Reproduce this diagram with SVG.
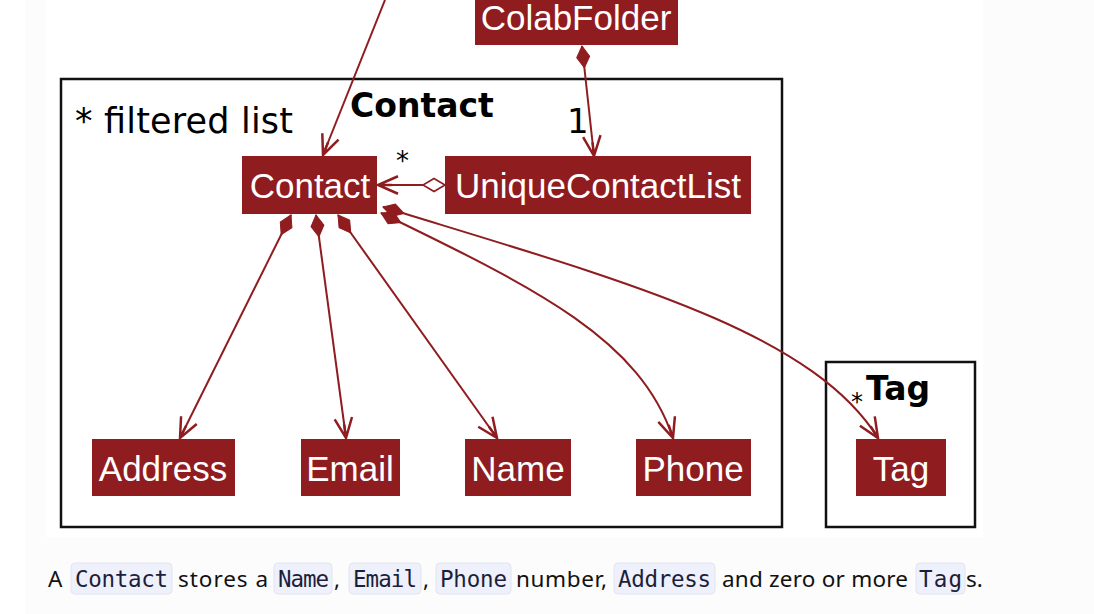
<svg xmlns="http://www.w3.org/2000/svg" width="1094" height="614" viewBox="0 0 1094 614">
<style>
.node rect{fill:#8f1c1f}
.node text{fill:#ffffff;font-family:"Liberation Sans",Arial,sans-serif;font-size:35px;text-anchor:middle}
.frame{fill:#ffffff;stroke:#111111;stroke-width:2.5}
.ptitle{font-family:"DejaVu Sans",sans-serif;font-weight:bold;font-size:33px;fill:#000}
.lbl{font-family:"DejaVu Sans",sans-serif;fill:#000}
.conn path{fill:none;stroke:#8f1c1f;stroke-width:2}
.cap{font-family:"Noto Sans",sans-serif;font-size:22.5px;fill:#111}
.code{font-family:"DejaVu Sans Mono","Liberation Mono",monospace;font-size:22.5px;fill:#1c1f3a}
.cbox{fill:#eef0fb;stroke:#e2e4f0;stroke-width:1}
</style>
<defs>
<marker id="arr" markerUnits="userSpaceOnUse" markerWidth="30" markerHeight="30" viewBox="-20 -10 24 20" refX="0" refY="0" orient="auto">
<path d="M-16,-7 L0,0 L-16,7 M-11,0 L0,0" fill="none" stroke="#8f1c1f" stroke-width="2"/>
</marker>
<marker id="dia" markerUnits="userSpaceOnUse" markerWidth="30" markerHeight="20" viewBox="-2 -10 26 20" refX="0" refY="0" orient="auto">
<path d="M0,0 L11,-6.5 L22,0 L11,6.5 Z" fill="#8f1c1f" stroke="#8f1c1f" stroke-width="1"/>
</marker>
<marker id="odia" markerUnits="userSpaceOnUse" markerWidth="30" markerHeight="20" viewBox="-2 -10 26 20" refX="0" refY="0" orient="auto">
<path d="M0,0 L11,-6.5 L22,0 L11,6.5 Z" fill="#ffffff" stroke="#8f1c1f" stroke-width="1.6"/>
</marker>
</defs>
<rect x="0" y="0" width="1094" height="614" fill="#ffffff"/>
<rect x="25" y="0" width="1069" height="614" fill="#fcfcfc"/>
<rect x="46" y="0" width="937" height="537" fill="#ffffff"/>

<g id="pkg-contact">
<rect class="frame" x="61" y="79" width="721" height="448"/>
<text class="ptitle" x="350" y="117">Contact</text>
<text class="lbl" x="75" y="133" font-size="35" textLength="218">* filtered list</text>
</g>
<g id="pkg-tag">
<rect class="frame" x="826" y="362" width="149" height="165"/>
<text class="ptitle" x="866" y="400" font-size="34">Tag</text>
<text class="lbl" x="851" y="410" font-size="24">*</text>
</g>

<g id="ColabFolder" class="node"><rect x="475" y="0" width="203" height="45"/><text x="576" y="30">ColabFolder</text></g>
<g id="Contact" class="node"><rect x="242" y="156" width="135" height="58"/><text x="310" y="198">Contact</text></g>
<g id="UniqueContactList" class="node"><rect x="445" y="156" width="306" height="58"/><text x="598" y="198">UniqueContactList</text></g>
<g id="Address" class="node"><rect x="92" y="439" width="143" height="57"/><text x="163" y="481">Address</text></g>
<g id="Email" class="node"><rect x="301" y="439" width="99" height="57"/><text x="350" y="481">Email</text></g>
<g id="Name" class="node"><rect x="465" y="439" width="106" height="57"/><text x="518" y="481">Name</text></g>
<g id="Phone" class="node"><rect x="636" y="439" width="115" height="57"/><text x="693" y="481">Phone</text></g>
<g id="Tag" class="node"><rect x="856" y="439" width="90" height="57"/><text x="901" y="481">Tag</text></g>

<g id="connectors" class="conn">
<path d="M385,0 L323,155" marker-end="url(#arr)"/>
<path d="M582,46 L594,156" marker-start="url(#dia)" marker-end="url(#arr)"/>
<path d="M445,185 L378,185" marker-start="url(#odia)" marker-end="url(#arr)"/>
<path d="M291,215 L180,438" marker-start="url(#dia)" marker-end="url(#arr)"/>
<path d="M316,215 L346,438" marker-start="url(#dia)" marker-end="url(#arr)"/>
<path d="M338,215 L497,438" marker-start="url(#dia)" marker-end="url(#arr)"/>
<path d="M381,213 C540,290 640,340 673,438" marker-start="url(#dia)" marker-end="url(#arr)"/>
<path d="M383,207 C620,280 810,330 878,438" marker-start="url(#dia)" marker-end="url(#arr)"/>
<text class="lbl" x="567" y="133" font-size="34" font-family="Liberation Sans, sans-serif">1</text>
<text class="lbl" x="396" y="170" font-size="26">*</text>
</g>

<g id="caption">
<rect class="cbox" x="71" y="563" width="101" height="31" rx="4"/>
<rect class="cbox" x="274" y="563" width="58" height="31" rx="4"/>
<rect class="cbox" x="349" y="563" width="72" height="31" rx="4"/>
<rect class="cbox" x="436" y="563" width="75" height="31" rx="4"/>
<rect class="cbox" x="614" y="563" width="101" height="31" rx="4"/>
<rect class="cbox" x="916" y="563" width="49" height="31" rx="4"/>
<text class="cap" x="48" y="587">A</text>
<text class="code" x="75" y="587" textLength="93">Contact</text>
<text class="cap" x="178" y="587" textLength="90">stores a</text>
<text class="code" x="278" y="587" textLength="51">Name</text>
<text class="cap" x="334" y="587">,</text>
<text class="code" x="353" y="587" textLength="64">Email</text>
<text class="cap" x="423" y="587">,</text>
<text class="code" x="440" y="587" textLength="67">Phone</text>
<text class="cap" x="516" y="587" textLength="91">number,</text>
<text class="code" x="618" y="587" textLength="93">Address</text>
<text class="cap" x="722" y="587" textLength="186">and zero or more</text>
<text class="code" x="919" y="587" textLength="43">Tag</text>
<text class="cap" x="966" y="587">s.</text>
</g>
</svg>
